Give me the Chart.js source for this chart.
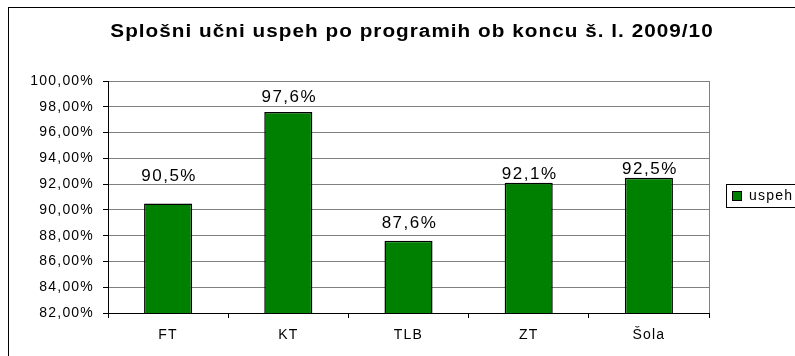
<!DOCTYPE html>
<html>
<head>
<meta charset="utf-8">
<script src="https://cdn.jsdelivr.net/npm/chart.js@4.4.0/dist/chart.umd.min.js"></script>
<style>
  html, body { margin: 0; padding: 0; background: #fff; overflow: hidden; }
  #wrap { width: 795px; height: 356px; overflow: hidden; }
  canvas { display: block; }
</style>
</head>
<body>
<div id="wrap"><canvas id="uspehChart" width="830" height="372"></canvas></div>
<script>
// Splošni učni uspeh po programih, š. l. 2009/10
const chartTitle = "Splošni učni uspeh po programih ob koncu š. l. 2009/10";
const programs = ["FT", "KT", "TLB", "ZT", "Šola"];
const uspeh = [90.5, 97.6, 87.6, 92.1, 92.5];
const yTicks = [82, 84, 86, 88, 90, 92, 94, 96, 98, 100];

const FONT = "'Liberation Sans', Arial, sans-serif";
const pct2 = v => v.toFixed(2).replace(".", ",") + "%";
const pct1 = v => v.toFixed(1).replace(".", ",") + "%";

// frame, title, right plot border, value labels and legend box
const framePlugin = {
  id: "frame",
  beforeDraw(chart) {
    const ctx = chart.ctx;
    ctx.save();
    ctx.fillStyle = "#fff";
    ctx.fillRect(0, 0, chart.width, chart.height);
    ctx.strokeStyle = "#000";
    ctx.lineWidth = 1;
    ctx.strokeRect(8.5, 7.5, chart.width, chart.height);
    // title is set a little wide
    ctx.translate(412, 37);
    ctx.scale(1.15, 1);
    ctx.font = "bold 18px " + FONT;
    ctx.letterSpacing = "0.9px";
    ctx.fillStyle = "#000";
    ctx.textAlign = "center";
    ctx.textBaseline = "alphabetic";
    ctx.fillText(chartTitle, 0, 0);
    ctx.restore();
    ctx.letterSpacing = "1.2px"; // axis text
  },
  beforeDatasetsDraw(chart) {
    const { ctx, chartArea: a } = chart;
    ctx.save();
    ctx.strokeStyle = "#808080";
    ctx.lineWidth = 1;
    ctx.beginPath();
    ctx.moveTo(Math.round(a.right) + 0.5, a.top);
    ctx.lineTo(Math.round(a.right) + 0.5, a.bottom);
    ctx.stroke();
    ctx.restore();
  },
  afterDatasetsDraw(chart, args, opts) {
    const ctx = chart.ctx;
    const ds = chart.data.datasets[0];
    ctx.save();
    ctx.font = "17px " + FONT;
    ctx.letterSpacing = "1.5px";
    ctx.fillStyle = "#000";
    ctx.textAlign = "center";
    ctx.textBaseline = "middle";
    chart.getDatasetMeta(0).data.forEach((bar, i) => {
      ctx.fillText(pct1(ds.data[i]), bar.x + 1, bar.y - opts.lift[i]);
    });
    ctx.restore();
  },
  afterDraw(chart) {
    const ctx = chart.ctx;
    const ds = chart.data.datasets[0];
    ctx.save();
    ctx.strokeStyle = "#000";
    ctx.lineWidth = 1;
    ctx.strokeRect(726.5, 184.5, 200, 23);
    ctx.fillStyle = ds.backgroundColor;
    ctx.fillRect(732, 191, 9, 9);
    ctx.strokeRect(732.5, 191.5, 9, 9);
    ctx.font = "14px " + FONT;
    ctx.letterSpacing = "1.2px";
    ctx.fillStyle = "#000";
    ctx.textBaseline = "middle";
    ctx.fillText(ds.label, 749, 196.5);
    ctx.restore();
  }
};

new Chart(document.getElementById("uspehChart"), {
  type: "bar",
  data: {
    labels: programs,
    datasets: [{
      label: "uspeh",
      data: uspeh,
      backgroundColor: "#008000",
      borderColor: "#000",
      borderWidth: 1.5,
      categoryPercentage: 1,
      barPercentage: 0.4
    }]
  },
  options: {
    responsive: false,
    animation: false,
    layout: { padding: { left: 8, top: 81, right: 121, bottom: 9 } },
    plugins: {
      legend: { display: false },
      title: { display: false },
      tooltip: { enabled: false },
      frame: { lift: [27, 15, 18, 9, 8] }
    },
    scales: {
      x: {
        grid: { drawOnChartArea: false, drawTicks: true, tickLength: 5, color: "#000", offset: true },
        border: { color: "#000", width: 1 },
        ticks: { color: "#000", font: { family: FONT, size: 14 }, padding: 9 },
        afterFit(scale) { scale.height = 50; }
      },
      y: {
        min: 82,
        max: 100,
        afterBuildTicks(scale) { scale.ticks = yTicks.map(v => ({ value: v })); },
        grid: { color: "#808080", tickColor: "#000", tickLength: 5 },
        border: { color: "#000", width: 1 },
        ticks: { color: "#000", font: { family: FONT, size: 14 }, padding: 9, callback: v => pct2(v) },
        afterFit(scale) { scale.width = 100; }
      }
    }
  },
  plugins: [framePlugin]
});
</script>
</body>
</html>
